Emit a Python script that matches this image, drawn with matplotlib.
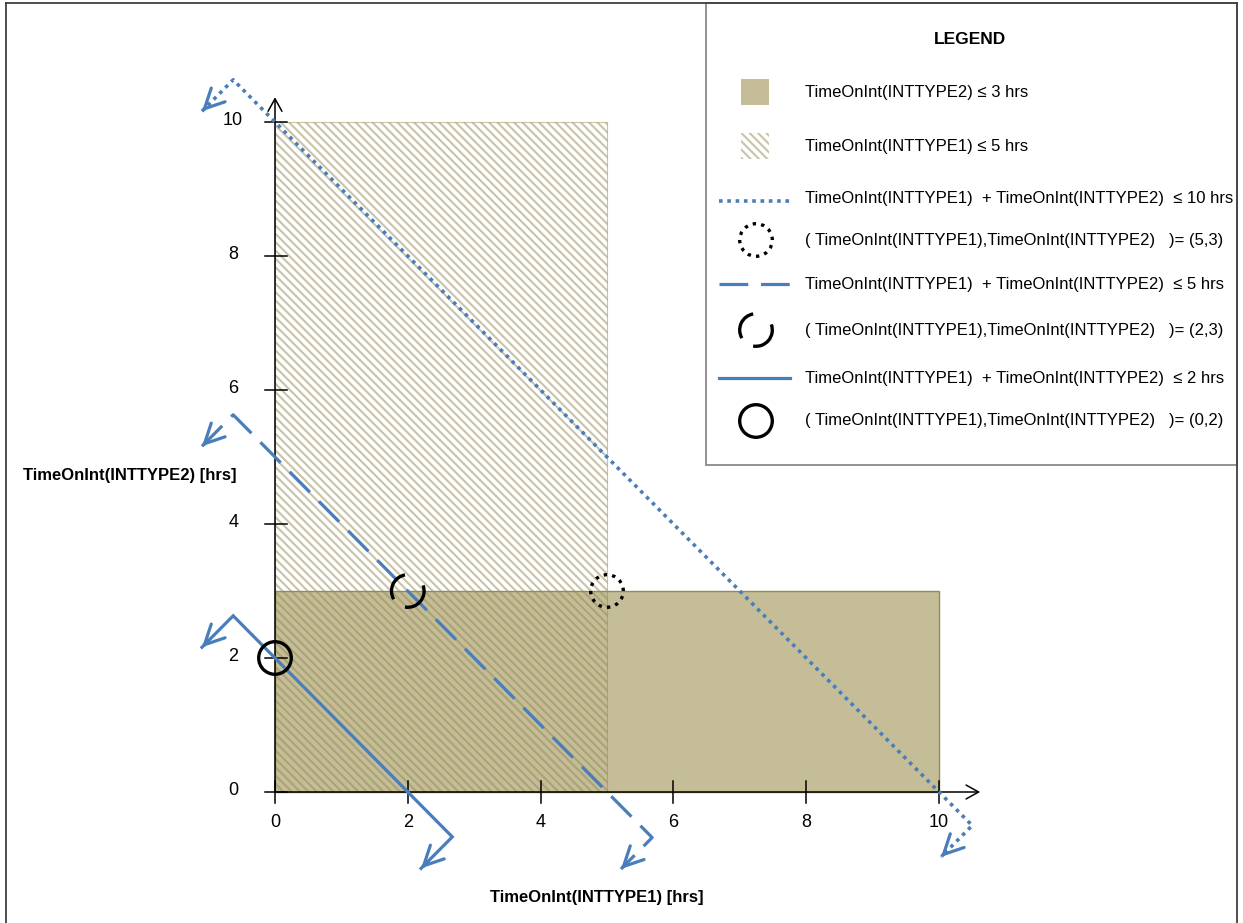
import matplotlib
import matplotlib.pyplot as plt
from matplotlib.patches import Arc, Ellipse, Rectangle

matplotlib.use("Agg")

plt.rcParams["font.family"] = ["Liberation Sans", "DejaVu Sans"]
plt.rcParams["hatch.linewidth"] = 1.5

# limits of the feasible region (hrs)
int1_limit = 5
int2_limit = 3
axis_max = 10
x_ticks = [0, 2, 4, 6, 8, 10]
y_ticks = [0, 2, 4, 6, 8, 10]

# total time budget lines: INTTYPE1 + INTTYPE2 <= budget
budgets = [10, 5, 2]
budget_styles = [(0, (1, 1.3)), (0, (9, 4)), "-"]
budget_widths = [2.6, 2.3, 2.3]
budget_ext_bottom = [0.5, 0.68, 0.67]

# candidate points (INTTYPE1, INTTYPE2)
point_x = [5, 2, 0]
point_y = [3, 3, 2]
point_kinds = ["dotted", "dashed", "solid"]
dash_arcs = [(100, 210), (260, 380)]  # visible parts of the dashed circle (deg)

legend_labels = [
    "TimeOnInt(INTTYPE2) ≤ 3 hrs",
    "TimeOnInt(INTTYPE1) ≤ 5 hrs",
    "TimeOnInt(INTTYPE1)  + TimeOnInt(INTTYPE2)  ≤ 10 hrs",
    "( TimeOnInt(INTTYPE1),TimeOnInt(INTTYPE2)   )= (5,3)",
    "TimeOnInt(INTTYPE1)  + TimeOnInt(INTTYPE2)  ≤ 5 hrs",
    "( TimeOnInt(INTTYPE1),TimeOnInt(INTTYPE2)   )= (2,3)",
    "TimeOnInt(INTTYPE1)  + TimeOnInt(INTTYPE2)  ≤ 2 hrs",
    "( TimeOnInt(INTTYPE1),TimeOnInt(INTTYPE2)   )= (0,2)",
]

BLUE = "#4a7ebb"
TAN = "#c4bd97"
OLIVE = "#948a54"
HATCH = (0.58, 0.54, 0.33, 0.5)
HATCH_PATTERN = "\\\\\\\\"

W, H = 1243, 923
X0, XS = 275, 66.4  # pixel of x=0, pixels per hour
Y0, YS = 792, 67.0
R = 16.3  # marker circle radius, px


def draw_circle(target, center, w, h, kind, zorder):
    if kind == "dashed":
        for t1, t2 in dash_arcs:
            target.add_patch(Arc(center, w, h, theta1=t1, theta2=t2, ec="black",
                                 lw=2.4, zorder=zorder))
    else:
        ls = (0, (1, 1.56)) if kind == "dotted" else "-"
        target.add_patch(Ellipse(center, w, h, fill=False, ec="black", lw=2.4,
                                 linestyle=ls, zorder=zorder))


fig = plt.figure(figsize=(W / 100, H / 100), dpi=100)
ax = fig.add_axes([0, 0, 1, 1])
ax.set_xlim(-X0 / XS, (W - X0) / XS)
ax.set_ylim((Y0 - H) / YS, Y0 / YS)
ax.axis("off")

# regions
ax.add_patch(Rectangle((0, 0), axis_max, int2_limit, fc=TAN, ec=OLIVE, lw=1, zorder=1))
ax.add_patch(Rectangle((0, 0), int1_limit, axis_max, fill=False, hatch=HATCH_PATTERN,
                       ec=HATCH, lw=0.8, zorder=2))

# axes with arrows and ticks
arrow_kw = dict(arrowstyle="->,head_length=0.45,head_width=0.25", lw=1.1, color="black",
                shrinkA=0, shrinkB=0, mutation_scale=20)
ax.annotate("", xy=(10.62, 0), xytext=(0, 0), arrowprops=arrow_kw, zorder=3)
ax.annotate("", xy=(0, 10.37), xytext=(0, 0), arrowprops=arrow_kw, zorder=3)
for t in x_ticks:
    ax.plot([t, t], [-0.16, 0.16], color="black", lw=1.1, zorder=3)
    ax.text(t, -0.45, str(t), ha="center", va="center", fontsize=13)
for t in y_ticks:
    ax.plot([-0.15, 0.18], [t, t], color="black", lw=1.1, zorder=3)
    ax.text(-0.63, t + 0.02, str(t), ha="center", va="center", fontsize=13)

ax.text(-3.8, 4.73, "TimeOnInt(INTTYPE2) [hrs]", ha="left", va="center",
        fontsize=12, fontweight="bold")
ax.text(4.85, -1.58, "TimeOnInt(INTTYPE1) [hrs]", ha="center", va="center",
        fontsize=12, fontweight="bold")

# budget lines, extended past the axes with an arrow towards the feasible side
ext_top = 0.63
arr = 0.47
for c, ls, lw, eb in zip(budgets, budget_styles, budget_widths, budget_ext_bottom):
    top = (-ext_top, c + ext_top)
    bot = (c + eb, -eb)
    tips = [(top[0] - arr, top[1] - arr), (bot[0] - arr, bot[1] - arr)]
    xs = [tips[0][0], top[0], bot[0], tips[1][0]]
    ys = [tips[0][1], top[1], bot[1], tips[1][1]]
    ax.plot(xs, ys, color=BLUE, lw=lw, linestyle=ls, dash_capstyle="butt",
            solid_joinstyle="miter", zorder=4)
    for tx, ty in tips:
        ax.annotate("", xy=(tx, ty), xytext=(tx + 0.04, ty + 0.04),
                    arrowprops=dict(arrowstyle="->,head_length=0.7,head_width=0.35",
                                    lw=2.3, color=BLUE, shrinkA=0, shrinkB=0,
                                    mutation_scale=20), zorder=4)

for px_, py_, kind in zip(point_x, point_y, point_kinds):
    draw_circle(ax, (px_, py_), 2 * R / XS, 2 * R / YS, kind, 5)

# legend and frame drawn in pixel coordinates
lax = fig.add_axes([0, 0, 1, 1])
lax.set_xlim(0, W)
lax.set_ylim(0, H)
lax.axis("off")
lax.patch.set_alpha(0)

frame = "#404040"
lax.plot([6.5, 6.5], [0, H - 2.5], color=frame, lw=1.3, clip_on=False)
lax.plot([6.5, 1237], [H - 2.5, H - 2.5], color=frame, lw=1.3, clip_on=False)
lax.plot([1237, 1237], [0, H - 2.5], color=frame, lw=1.3, clip_on=False)
lax.add_patch(Rectangle((706, H - 465), 531, 462.5, fill=False, ec="#808080", lw=1.2))

lax.text(970, H - 40, "LEGEND", ha="center", va="center", fontsize=12.5,
         fontweight="bold")
rows = [92, 146, 198, 240, 284, 330, 378, 421]
for label, ry in zip(legend_labels, rows):
    lax.text(805, H - ry, label, ha="left", va="center", fontsize=12)

lax.add_patch(Rectangle((741, H - rows[0] - 13), 28, 26, fc=TAN, ec="none"))
lax.add_patch(Rectangle((741, H - rows[1] - 13), 28, 26, fill=False, hatch=HATCH_PATTERN,
                        ec=HATCH, lw=0))
line_rows = [201, 284, 378]
for ry, ls, lw in zip(line_rows, budget_styles, budget_widths):
    lax.plot([719, 790], [H - ry] * 2, color=BLUE, lw=lw, linestyle=ls,
             dash_capstyle="butt")
for ry, kind in zip([rows[3], rows[5], rows[7]], point_kinds):
    draw_circle(lax, (756, H - ry), 2 * R, 2 * R, kind, 3)

fig.savefig("out.png", dpi=100)
